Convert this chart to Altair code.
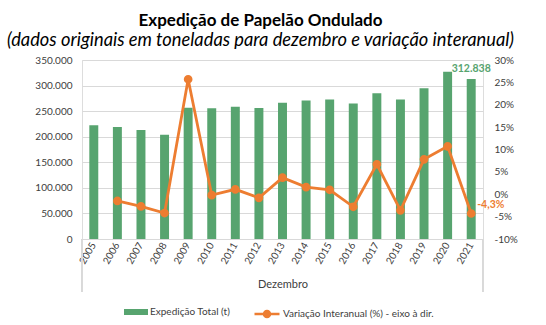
import altair as alt
import pandas as pd

years = [str(y) for y in range(2005, 2022)]
expedicao = [222300, 219000, 213000, 204000, 256500, 255800, 258500, 256000, 266500,
             271000, 273000, 265000, 285000, 273000, 294800, 326900, 312838]
variacao = [None, -1.5, -2.7, -4.2, 25.7, -0.2, 1.1, -0.8, 3.7,
            1.6, 1.0, -2.8, 6.7, -3.6, 7.8, 10.7, -4.3]

S1 = "Expedição Total (t)"
S2 = "Variação Interanual (%) - eixo à dir."
GREEN = "#57A46F"
ORANGE = "#ED7D31"
FONT = "Lato"

df = pd.DataFrame({"ano": years, "exp": expedicao, "var": variacao})
df["s1"] = S1
df["s2"] = S2
df["exp_label"] = [""] * (len(years) - 1) + [f"{expedicao[-1]:,}".replace(",", ".")]
df["var_label"] = [""] * (len(years) - 1) + [f"{variacao[-1]:.1f}".replace(".", ",") + "%"]

W, H = 401, 179

x = alt.X("ano:N", sort=years,
          scale=alt.Scale(paddingInner=0.62, paddingOuter=0.31),
          axis=alt.Axis(title="Dezembro", labelAngle=-60, labelAlign="right",
                        labelBaseline="middle", labelPadding=4, ticks=False,
                        labelOverlap=False,
                        domainColor="#D9D9D9", labelColor="#404040", labelFontSize=10,
                        titleColor="#404040", titleFontSize=11, titleFontWeight="normal",
                        titlePadding=13, labelFont=FONT, titleFont=FONT))

base = alt.Chart(df)

bars = base.mark_bar(color=GREEN).encode(
    x=x,
    y=alt.Y("exp:Q", scale=alt.Scale(domain=[0, 350000], nice=False),
            axis=alt.Axis(title=None, values=list(range(0, 350001, 50000)), tickCount=10,
                          labelExpr="replace(format(datum.value, ','), ',', '.')",
                          labelOverlap=False,
                          domain=False, ticks=False, gridColor="#D9D9D9",
                          labelColor="#404040", labelFontSize=10, labelPadding=10,
                          labelFont=FONT)),
    fill=alt.Fill("s1:N", scale=alt.Scale(domain=[S1], range=[GREEN]),
                  legend=alt.Legend(title=None, orient="none", legendX=42, legendY=240,
                                    symbolType="M-1,-0.25L1,-0.25L1,0.25L-1,0.25Z",
                                    symbolSize=576, symbolStrokeWidth=0,
                                    labelFontSize=10, labelColor="#404040",
                                    labelFont=FONT, labelOffset=2)),
)

bar_text = base.mark_text(color=GREEN, fontWeight="bold", fontSize=10.5, dy=-10, font=FONT).encode(
    x=x, y=alt.Y("exp:Q"), text="exp_label:N")

edge_l = base.mark_rule(color="#D9D9D9").encode(
    x=alt.value(0), y=alt.value(H), y2=alt.value(H + 53))
edge_r = base.mark_rule(color="#D9D9D9").encode(
    x=alt.value(W), y=alt.value(H), y2=alt.value(H + 53))

left = alt.layer(bars, bar_text, edge_l, edge_r)

yr = alt.Y("var:Q", scale=alt.Scale(domain=[-10, 30], nice=False),
           axis=alt.Axis(title=None, orient="right", values=list(range(-10, 31, 5)),
                         tickCount=10,
                         labelExpr="datum.value + '%'", grid=False, domain=False,
                         labelOverlap=False,
                         ticks=False, labelColor="#404040", labelFontSize=10,
                         labelPadding=11, labelFont=FONT))

line = base.transform_filter("datum.var != null").mark_line(
    strokeWidth=2.8, point=alt.OverlayMarkDef(filled=True, size=45, color=ORANGE)
).encode(
    x=x, y=yr,
    stroke=alt.Stroke("s2:N", scale=alt.Scale(domain=[S2], range=[ORANGE]),
                      legend=alt.Legend(title=None, orient="none", legendX=171, legendY=240,
                                        symbolType="M-1,0L1,0M0.24,0A0.24,0.24,0,1,1,-0.24,0A0.24,0.24,0,1,1,0.24,0",
                                        symbolSize=625, symbolStrokeWidth=2.5,
                                        symbolFillColor=ORANGE,
                                        labelFontSize=10, labelColor="#404040",
                                        labelFont=FONT, labelOffset=2)),
)

line_text = base.mark_text(color=ORANGE, fontWeight="bold", fontSize=10.5, align="left",
                           dx=6, dy=-8, font=FONT).encode(
    x=x, y=alt.Y("var:Q"), text="var_label:N")

right = alt.layer(line, line_text)

chart = alt.layer(left, right).resolve_scale(
    y="independent", fill="independent", stroke="independent"
).properties(
    width=W, height=H,
    autosize=alt.AutoSizeParams(type="none"),
    padding={"left": 82, "top": 60, "right": 63, "bottom": 86},
    title=alt.TitleParams(
        text="Expedição de Papelão Ondulado",
        subtitle="(dados originais em toneladas para dezembro e variação interanual)",
        font=FONT, fontSize=17, fontWeight="bold", color="black",
        subtitleFont=FONT, subtitleFontSize=18.3, subtitleFontStyle="italic",
        subtitleColor="black", subtitlePadding=2, anchor="middle", dx=-22, offset=5),
).configure_view(stroke=None).configure(background="white")

chart.save("out.html", embed_options={"renderer": "svg", "actions": False})
